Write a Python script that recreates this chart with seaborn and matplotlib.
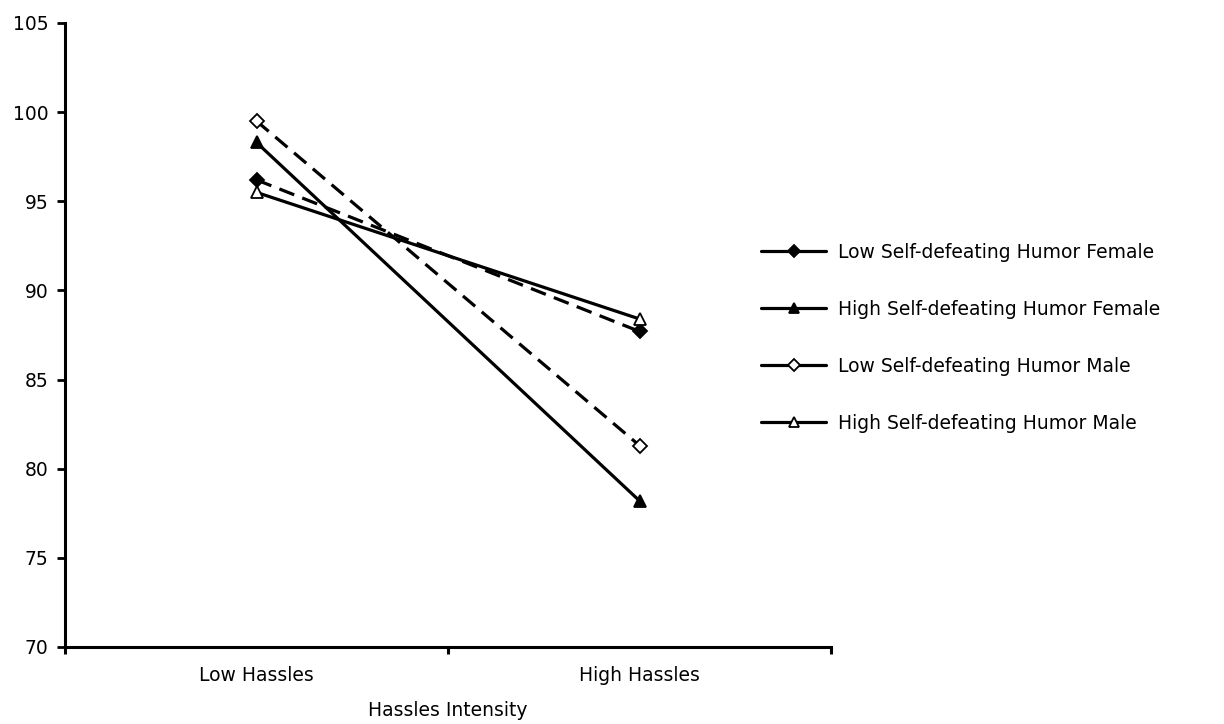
import matplotlib
matplotlib.use("Agg")
import matplotlib.pyplot as plt
import seaborn as sns
import pandas as pd
from matplotlib.lines import Line2D
from matplotlib.ticker import FixedLocator

# ---- data ----
categories = ["Low Hassles", "High Hassles"]
series_names = [
    "Low Self-defeating Humor Female",
    "High Self-defeating Humor Female",
    "Low Self-defeating Humor Male",
    "High Self-defeating Humor Male",
]
low_sdh_female = [96.2, 87.7]
high_sdh_female = [98.3, 78.2]
low_sdh_male = [99.5, 81.3]
high_sdh_male = [95.5, 88.4]
y_ticks = [70, 75, 80, 85, 90, 95, 100, 105]

values = [low_sdh_female, high_sdh_female, low_sdh_male, high_sdh_male]

rows = []
for name, vals in zip(series_names, values):
    for cat, v in zip(categories, vals):
        rows.append({"Hassles": cat, "Score": v, "Group": name})
df = pd.DataFrame(rows)

# ---- styles ----
styles = {
    series_names[0]: dict(marker="D", mfc="black", dashes=(5, 2.7), ms=7),
    series_names[1]: dict(marker="^", mfc="black", dashes=None, ms=8.5),
    series_names[2]: dict(marker="D", mfc="white", dashes=(5, 2.7), ms=7),
    series_names[3]: dict(marker="^", mfc="white", dashes=None, ms=8.5),
}

sns.set_theme(style="white")
plt.rcParams["font.family"] = ["DejaVu Sans"]
FS = 13.5

fig = plt.figure(figsize=(12.24, 7.24), dpi=100)
ax = fig.add_axes([65 / 1224, 1 - 647 / 724, (831 - 65) / 1224, (647 - 23) / 724])

for name in series_names:
    st = styles[name]
    sub = df[df["Group"] == name]
    kw = dict(marker=st["marker"], markerfacecolor=st["mfc"], markeredgecolor="black",
              markeredgewidth=1.3, markersize=st["ms"], linewidth=2.3, color="black")
    sns.lineplot(data=sub, x="Hassles", y="Score", sort=False, ax=ax, **kw)
    ln = ax.get_lines()[-1]
    if st["dashes"] is not None:
        ln.set_dashes(st["dashes"])

ax.set_xlim(-0.5, 1.5)
ax.set_ylim(70, 105)
ax.set_yticks(y_ticks)
ax.set_xticks([0, 1])
ax.set_xticklabels(categories)
ax.xaxis.set_minor_locator(FixedLocator([-0.5, 0.5, 1.5]))

for side in ["top", "right"]:
    ax.spines[side].set_visible(False)
for side in ["left", "bottom"]:
    ax.spines[side].set_linewidth(2.2)
    ax.spines[side].set_color("black")

ax.tick_params(axis="y", which="major", left=True, length=6, width=2, direction="out",
               pad=6, labelsize=FS, colors="black")
ax.tick_params(axis="x", which="major", bottom=True, length=0, pad=14, labelsize=FS,
               colors="black")
ax.tick_params(axis="x", which="minor", bottom=True, length=5, width=2.2, direction="out",
               colors="black")

ax.set_xlabel("Hassles Intensity", fontsize=FS, color="black", labelpad=11)
ax.set_ylabel("")

handles = []
for name in series_names:
    st = styles[name]
    handles.append(Line2D([0], [0], color="black", linewidth=2.3, marker=st["marker"],
                          markerfacecolor=st["mfc"], markeredgecolor="black",
                          markeredgewidth=1.3, markersize=st["ms"] * 0.85))
leg = fig.legend(handles, series_names, loc="upper left",
                 bbox_to_anchor=(761 / 1224, 1 - 243 / 724), frameon=False,
                 fontsize=FS, handlelength=3.47, handletextpad=0.64,
                 labelspacing=2.02, borderpad=0, borderaxespad=0)
for t in leg.get_texts():
    t.set_color("black")

fig.savefig("out.png", dpi=100)
